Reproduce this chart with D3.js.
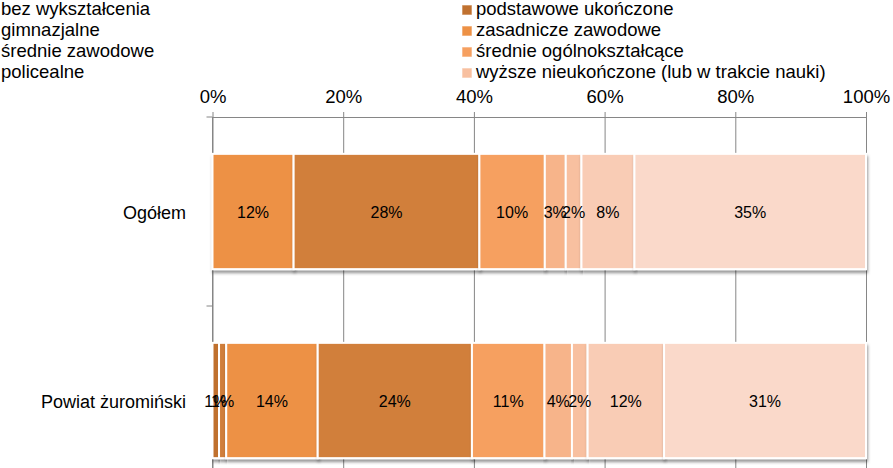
<!DOCTYPE html>
<html>
<head>
<meta charset="utf-8">
<script src="https://cdn.jsdelivr.net/npm/d3@7"></script>
<style>
  html, body { margin: 0; padding: 0; background: #fff; }
  svg { display: block; font-family: "Liberation Sans", Arial, sans-serif; }
</style>
</head>
<body>
<div id="chart"></div>
<script>
// ---- data ----
const categories = ["Ogółem", "Powiat żuromiński"];
const seriesNames = [
  "podstawowe ukończone",
  "bez wykształcenia",
  "zasadnicze zawodowe",
  "gimnazjalne",
  "średnie ogólnokształcące",
  "średnie zawodowe",
  "wyższe nieukończone (lub w trakcie nauki)",
  "policealne",
  "wyższe ukończone"
];
const valuesOgolem = [0, 0, 12.4, 28.4, 10.0, 3.2, 2.4, 8.1, 35.4];
const valuesPowiat = [1.0, 1.1, 14.0, 23.6, 11.1, 4.2, 2.4, 11.7, 30.9];
const seriesColors = ["#C0712F", "#D07E3A", "#ED9145", "#D17F3B", "#F6A060",
                      "#F7B48A", "#F8C0A0", "#F9CCB5", "#FAD9CA"];
const tickValues = [0, 0.2, 0.4, 0.6, 0.8, 1.0];
const legendCount = 8;

// ---- layout ----
const W = 893, H = 468;
const pLeft = 212.5, pRight = 866, pTop = 117, pBottom = 495;

const svg = d3.select("#chart").append("svg").attr("width", W).attr("height", H);

const defs = svg.append("defs");
const f = defs.append("filter").attr("id", "shadow")
  .attr("x", "-5%").attr("y", "-5%").attr("width", "110%").attr("height", "120%");
f.append("feDropShadow").attr("dx", 1).attr("dy", 3).attr("stdDeviation", 1.5)
  .attr("flood-color", "#000").attr("flood-opacity", 0.4);

const x = d3.scaleLinear().domain([0, 1]).range([pLeft, pRight]);
const y = d3.scaleBand().domain(categories).range([pTop, pBottom])
  .paddingInner(0.39).paddingOuter(0.195);

// table for stacking
const table = categories.map((c, ci) => {
  const row = { category: c };
  const vals = ci === 0 ? valuesOgolem : valuesPowiat;
  seriesNames.forEach((s, si) => row[s] = vals[si]);
  return row;
});
const stack = d3.stack().keys(seriesNames).offset(d3.stackOffsetExpand);
const stacked = stack(table);
const color = d3.scaleOrdinal().domain(seriesNames).range(seriesColors);

// gridlines
svg.append("g")
  .attr("transform", `translate(0,${pTop})`)
  .call(d3.axisBottom(x).tickValues(tickValues).tickSize(pBottom - pTop).tickFormat(""))
  .call(g => g.select(".domain").remove())
  .call(g => g.selectAll("line").attr("stroke", "#868686").attr("stroke-width", 1));

// top axis
const xAxis = svg.append("g")
  .attr("transform", `translate(0,${pTop})`)
  .call(d3.axisTop(x).tickValues(tickValues).tickSize(5).tickSizeOuter(0)
    .tickPadding(9).tickFormat(d3.format(".0%")));
xAxis.select(".domain").attr("stroke", "#868686");
xAxis.selectAll("line").attr("stroke", "#868686");
xAxis.selectAll("text").attr("font-size", "18.5px").attr("fill", "#000")
  .attr("font-family", "Liberation Sans, Arial, sans-serif");

// left axis
const yAxis = svg.append("g");
yAxis.append("line").attr("x1", pLeft).attr("x2", pLeft).attr("y1", pTop).attr("y2", pBottom)
  .attr("stroke", "#868686");
const boundaries = d3.range(categories.length + 1).map(i => pTop + i * y.step());
yAxis.selectAll("line.tick").data(boundaries).join("line").attr("class", "tick")
  .attr("x1", pLeft - 6).attr("x2", pLeft).attr("y1", d => d).attr("y2", d => d)
  .attr("stroke", "#868686");

// category labels
svg.append("g").selectAll("text").data(categories).join("text")
  .attr("x", 186).attr("y", d => y(d) + y.bandwidth() / 2 + 7)
  .attr("text-anchor", "end").attr("font-size", "18px").attr("fill", "#000")
  .text(d => d);

// bars
const layers = svg.append("g").selectAll("g").data(stacked).join("g")
  .attr("fill", d => color(d.key));
layers.selectAll("rect").data(d => d.map(p => ({ p, key: d.key })))
  .join("rect")
  .attr("x", d => x(d.p[0]))
  .attr("y", d => y(d.p.data.category))
  .attr("width", d => Math.max(0, x(d.p[1]) - x(d.p[0])))
  .attr("height", y.bandwidth())
  .attr("stroke", "#fff").attr("stroke-width", 2)
  .attr("filter", d => (d.p[1] - d.p[0]) > 0 ? "url(#shadow)" : null)
  .attr("display", d => (d.p[1] - d.p[0]) > 0 ? null : "none");

// data labels
const labelData = [];
stacked.forEach(layer => layer.forEach(p => {
  const v = p.data[layer.key];
  if (v > 0) labelData.push({ p, v });
}));
svg.append("g").selectAll("text").data(labelData).join("text")
  .attr("x", d => (x(d.p[0]) + x(d.p[1])) / 2)
  .attr("y", d => y(d.p.data.category) + y.bandwidth() / 2 + 6)
  .attr("text-anchor", "middle").attr("font-size", "16px").attr("fill", "#000")
  .text(d => Math.round(d.v) + "%");

// legend
const legend = svg.append("g");
const legItems = seriesNames.slice(0, legendCount).map((name, i) => ({
  name, i, col: i % 2 === 0 ? 1 : 0, row: Math.floor(i / 2)
}));
const colX = [{ sw: -14, tx: 1 }, { sw: 462, tx: 476 }];
const lg = legend.selectAll("g").data(legItems).join("g")
  .attr("transform", d => `translate(0,${15 + d.row * 21})`);
lg.append("rect")
  .attr("x", d => colX[d.col].sw).attr("y", -10).attr("width", 10).attr("height", 10)
  .attr("fill", d => color(d.name)).attr("stroke", "#fff").attr("stroke-opacity", 0.6);
lg.append("text")
  .attr("x", d => colX[d.col].tx).attr("y", 0)
  .attr("font-size", "18.5px").attr("fill", "#000")
  .text(d => d.name);
</script>
</body>
</html>
